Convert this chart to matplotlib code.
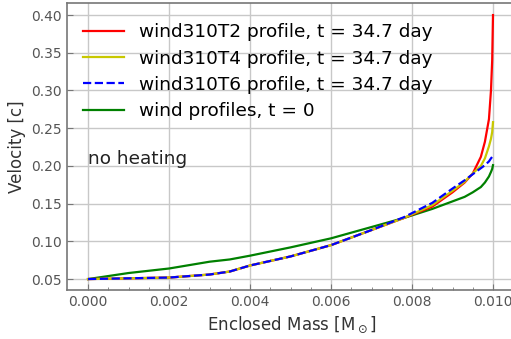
import numpy as np
import matplotlib
matplotlib.use("Agg")
from matplotlib import pyplot as plt

# enclosed mass grid [Msun]
mass = [0.0, 0.001, 0.002, 0.003, 0.0035, 0.004, 0.005, 0.006, 0.007, 0.0078,
        0.0085, 0.009, 0.0093, 0.0095, 0.0097, 0.0098, 0.0099, 0.00995, 0.00998, 0.0100]

# velocity profiles [c]
v_t2 = [0.050, 0.051, 0.052, 0.056, 0.060, 0.068, 0.080, 0.095, 0.115, 0.131,
        0.146, 0.165, 0.178, 0.190, 0.212, 0.232, 0.262, 0.300, 0.340, 0.400]
v_t4 = [0.050, 0.051, 0.052, 0.056, 0.060, 0.068, 0.080, 0.095, 0.115, 0.131,
        0.148, 0.167, 0.179, 0.190, 0.200, 0.210, 0.226, 0.236, 0.245, 0.258]
v_t6 = [0.050, 0.051, 0.052, 0.056, 0.060, 0.068, 0.080, 0.095, 0.115, 0.132,
        0.151, 0.170, 0.181, 0.189, 0.197, 0.201, 0.206, 0.210, 0.212, 0.215]
v_init = [0.050, 0.058, 0.064, 0.073, 0.076, 0.081, 0.092, 0.104, 0.119, 0.131,
          0.143, 0.153, 0.159, 0.165, 0.172, 0.178, 0.186, 0.192, 0.196, 0.201]

labels = ["wind310T2 profile, t = 34.7 day",
          "wind310T4 profile, t = 34.7 day",
          "wind310T6 profile, t = 34.7 day",
          "wind profiles, t = 0"]

fig = plt.figure(figsize=(5.11, 3.39), dpi=100)
# right spine sits just past the canvas edge
ax = fig.add_axes([67 / 511, 1 - 290 / 339, (516 - 67) / 511, (290 - 3) / 339])

ax.plot(mass, v_t2, color="red", lw=1.6, label=labels[0], zorder=3)
ax.plot(mass, v_t4, color="#c8c800", lw=1.6, label=labels[1], zorder=3)
ax.plot(mass, v_t6, color="blue", lw=1.6, ls="--", label=labels[2], zorder=4)
ax.plot(mass, v_init, color="green", lw=1.6, label=labels[3], zorder=2)

ax.text(0.0, 0.203, "no heating", fontsize=13.3, color="#222222")

ax.set_xlim(-0.00052, 0.010568)
ax.set_ylim(0.0355, 0.416)
ax.set_xticks([0.0, 0.002, 0.004, 0.006, 0.008, 0.010])
ax.set_xticklabels(["0.000", "0.002", "0.004", "0.006", "0.008", "0.010"])
ax.set_yticks([0.05, 0.10, 0.15, 0.20, 0.25, 0.30, 0.35, 0.40])
ax.set_yticklabels(["0.05", "0.10", "0.15", "0.20", "0.25", "0.30", "0.35", "0.40"])
ax.set_xticks(np.arange(0.0, 0.0105, 0.0005), minor=True)

ax.grid(True, color="#c8c8c8", lw=1.0)
ax.set_axisbelow(True)
for s in ax.spines.values():
    s.set_color("#777777")
    s.set_linewidth(1.2)
ax.tick_params(which="both", direction="in", colors="#777777", labelcolor="#555555",
               labelsize=10)
ax.tick_params(which="major", length=4)
ax.tick_params(which="minor", length=2)

ax.set_xlabel(r"Enclosed Mass [M$_\odot$]", fontsize=12, color="#333333")
ax.set_ylabel("Velocity [c]", fontsize=12, color="#333333")

ax.legend(loc="upper left", bbox_to_anchor=(0.012, 0.968), frameon=False,
          fontsize=13.3, handlelength=2.2, labelspacing=0.45, borderaxespad=0.2,
          handletextpad=0.8)

fig.savefig("out.png", dpi=100)
